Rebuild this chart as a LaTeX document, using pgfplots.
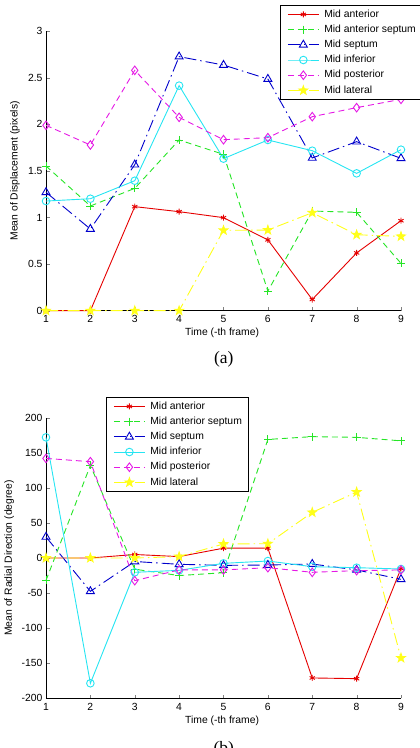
\documentclass[border=0pt]{standalone}
\usepackage{pgfplots}
\pgfplotsset{compat=1.18}
\usepackage{fontspec}
\setmainfont{Liberation Sans}
\newfontfamily\capfont{Liberation Serif}
\usetikzlibrary{plotmarks}

\pgfdeclareplotmark{pentagram}{%
  \pgfpathmoveto{\pgfpointpolar{90}{\pgfplotmarksize}}%
  \pgfpathlineto{\pgfpointpolar{126}{0.4\pgfplotmarksize}}%
  \pgfpathlineto{\pgfpointpolar{162}{\pgfplotmarksize}}%
  \pgfpathlineto{\pgfpointpolar{198}{0.4\pgfplotmarksize}}%
  \pgfpathlineto{\pgfpointpolar{234}{\pgfplotmarksize}}%
  \pgfpathlineto{\pgfpointpolar{270}{0.4\pgfplotmarksize}}%
  \pgfpathlineto{\pgfpointpolar{306}{\pgfplotmarksize}}%
  \pgfpathlineto{\pgfpointpolar{342}{0.4\pgfplotmarksize}}%
  \pgfpathlineto{\pgfpointpolar{18}{\pgfplotmarksize}}%
  \pgfpathlineto{\pgfpointpolar{54}{0.4\pgfplotmarksize}}%
  \pgfpathclose
  \pgfusepathqfillstroke
}

\definecolor{mred}{rgb}{0.9,0,0}
\definecolor{mgreen}{rgb}{0.15,0.9,0.15}
\definecolor{mblue}{rgb}{0,0,0.8}
\definecolor{mcyan}{rgb}{0.15,0.9,0.95}
\definecolor{mmag}{rgb}{0.9,0.1,0.9}
\definecolor{myel}{rgb}{1,1,0.1}

\pgfplotsset{
  mstyle/.style={
    scale only axis,
    width=355bp,
    axis x line*=bottom,
    axis y line*=left,
    tick align=inside,
    major tick length=3.5bp,
    xmin=1, xmax=9, xtick={1,...,9},
    clip=false,
    tick label style={font=\fontsize{10.4}{12}\selectfont},
    label style={font=\fontsize{10.4}{12}\selectfont},
    /pgf/number format/assume math mode=true,
    xticklabel style={yshift=-1.5bp},
    legend cell align=left,
    legend style={font=\fontsize{10.4}{12}\selectfont, draw=black, line width=0.9bp,
      inner xsep=7bp, inner ysep=4.5bp, row sep=5.7bp,
      nodes={inner sep=0pt, text height=7.5bp, text depth=2bp},
      /tikz/every odd column/.append style={column sep=5bp}},
    legend image code/.code={\draw[mark repeat=2,mark phase=2] plot coordinates {(0bp,0bp)(15.5bp,0bp)(31bp,0bp)};},
    every axis plot/.append style={line width=0.9bp},
  },
  sA/.style={mred, solid, mark=asterisk, mark size=3bp, mark options={solid}},
  sB/.style={mgreen, dash pattern=on 6bp off 4bp, mark=+, mark size=4bp, mark options={solid}},
  sC/.style={mblue, dash pattern=on 12bp off 4bp on 1.5bp off 4bp, mark=triangle, mark size=4.6bp, mark options={solid}},
  sD/.style={mcyan, solid, mark=o, mark size=3.8bp, mark options={solid}},
  sE/.style={mmag, dash pattern=on 6bp off 4bp, mark=diamond, mark size=4.3bp, mark options={solid}},
  sF/.style={myel, dash pattern=on 12bp off 4bp on 1.5bp off 4bp, mark=pentagram, mark size=4.6bp, mark options={solid, fill=myel}},
}

\begin{document}
\begin{tikzpicture}
\useasboundingbox (0,0) rectangle (420bp,748bp);

% ---------- (a) ----------
\begin{axis}[mstyle,
  at={(46bp,437.3bp)}, anchor=south west,
  height=279.7bp,
  ymin=0, ymax=3, ytick={0,0.5,1,1.5,2,2.5,3},
  xlabel={Time (-th frame)},
  ylabel={Mean of Displacement (pixels)},
  xlabel style={at={(axis description cs:0.496,-0.0808)}, anchor=center},
  ylabel style={at={(axis description cs:-0.0873,0.5)}, anchor=center},
  legend style={at={(axis description cs:0.659,1.094)}, anchor=north west},
]
\addplot[sA] coordinates {(1,0)(2,0)(3,1.116)(4,1.062)(5,0.998)(6,0.76)(7,0.12)(8,0.62)(9,0.965)};
\addplot[sB] coordinates {(1,1.552)(2,1.123)(3,1.312)(4,1.831)(5,1.677)(6,0.211)(7,1.069)(8,1.055)(9,0.508)};
\addplot[sC] coordinates {(1,1.27)(2,0.876)(3,1.566)(4,2.725)(5,2.635)(6,2.485)(7,1.638)(8,1.813)(9,1.634)};
\addplot[sD] coordinates {(1,1.176)(2,1.201)(3,1.394)(4,2.414)(5,1.631)(6,1.831)(7,1.716)(8,1.473)(9,1.727)};
\addplot[sE] coordinates {(1,1.988)(2,1.777)(3,2.578)(4,2.074)(5,1.834)(6,1.856)(7,2.081)(8,2.178)(9,2.267)};
\addplot[sF] coordinates {(1,0)(2,0)(3,0)(4,0)(5,0.862)(6,0.865)(7,1.051)(8,0.815)(9,0.797)};
\legend{Mid anterior, Mid anterior septum, Mid septum, Mid inferior, Mid posterior, Mid lateral}
\end{axis}

% ---------- (b) ----------
\begin{axis}[mstyle,
  at={(46bp,49.7bp)}, anchor=south west,
  height=280.6bp,
  ymin=-200, ymax=200, ytick={-200,-150,...,200},
  xlabel={Time (-th frame)},
  ylabel={Mean of Radial Direction (degree)},
  xlabel style={at={(axis description cs:0.496,-0.0809)}, anchor=center},
  ylabel style={at={(axis description cs:-0.1034,0.5)}, anchor=center},
  legend style={at={(axis description cs:0.169,1.0748)}, anchor=north west},
]
\addplot[sA] coordinates {(1,0)(2,0)(3,5)(4,2)(5,14)(6,14)(7,-171)(8,-172)(9,-15)};
\addplot[sB] coordinates {(1,-32)(2,132)(3,-16)(4,-25)(5,-21)(6,169)(7,173)(8,172)(9,167)};
\addplot[sC] coordinates {(1,30)(2,-47.5)(3,-5)(4,-9)(5,-10.5)(6,-10)(7,-8.6)(8,-17)(9,-30.4)};
\addplot[sD] coordinates {(1,172)(2,-178.6)(3,-20.4)(4,-17.6)(5,-7.6)(6,-4.3)(7,-12.4)(8,-13.8)(9,-15.7)};
\addplot[sE] coordinates {(1,142)(2,137.3)(3,-32.3)(4,-17)(5,-17)(6,-13.8)(7,-20.4)(8,-18)(9,-17)};
\addplot[sF] coordinates {(1,0)(2,0)(3,0)(4,2)(5,20)(6,20.4)(7,65)(8,94)(9,-142.5)};
\legend{Mid anterior, Mid anterior septum, Mid septum, Mid inferior, Mid posterior, Mid lateral}
\end{axis}

\node[anchor=base, font=\capfont\fontsize{17.5}{20}\selectfont] at (223.8bp,384.2bp) {(a)};
\node[anchor=base, font=\capfont\fontsize{17.5}{20}\selectfont] at (223.8bp,-5.8bp) {(b)};
\end{tikzpicture}
\end{document}
